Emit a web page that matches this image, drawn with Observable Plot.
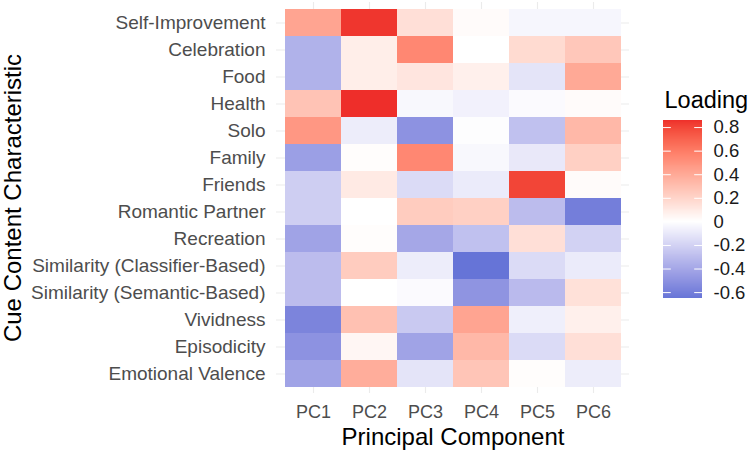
<!DOCTYPE html>
<html>
<head>
<meta charset="utf-8">
<script src="https://cdn.jsdelivr.net/npm/d3@7"></script>
<script src="https://cdn.jsdelivr.net/npm/@observablehq/plot@0.6"></script>
<style>
  html, body { margin: 0; padding: 0; background: #ffffff; }
  #chart { position: relative; width: 750px; height: 450px; overflow: hidden;
           font-family: "Liberation Sans", Arial, sans-serif; }
  #chart > svg { position: absolute; top: 0; }
</style>
</head>
<body>
<div id="chart"></div>
<script>
// Principal components (columns) and cue content characteristics (rows)
const components = ["PC1", "PC2", "PC3", "PC4", "PC5", "PC6"];
const characteristics = [
  "Self-Improvement", "Celebration", "Food", "Health", "Solo", "Family", "Friends",
  "Romantic Partner", "Recreation", "Similarity (Classifier-Based)",
  "Similarity (Semantic-Based)", "Vividness", "Episodicity", "Emotional Valence"
];

// Loadings of each characteristic on each component (same order as characteristics)
const pc1 = [0.42, -0.35, -0.35, 0.28, 0.48, -0.44, -0.22, -0.22, -0.42, -0.30, -0.30, -0.57, -0.50, -0.42];
const pc2 = [0.84, 0.08, 0.08, 0.86, -0.08, 0.01, 0.10, 0.00, 0.01, 0.24, 0.00, 0.29, 0.04, 0.38];
const pc3 = [0.15, 0.55, 0.12, -0.03, -0.50, 0.55, -0.16, 0.24, -0.40, -0.08, -0.02, -0.24, -0.42, -0.12];
const pc4 = [0.02, 0.00, 0.07, -0.06, -0.01, -0.03, -0.09, 0.22, -0.28, -0.65, -0.49, 0.42, 0.33, 0.27];
const pc5 = [-0.04, 0.17, -0.12, -0.02, -0.28, -0.10, 0.80, -0.30, 0.15, -0.16, -0.31, -0.07, -0.16, 0.01];
const pc6 = [-0.04, 0.26, 0.40, 0.02, 0.33, 0.22, 0.02, -0.60, -0.20, -0.09, 0.14, 0.07, 0.15, -0.08];

// Legend tick labels
const legendTicks = [-0.6, -0.4, -0.2, 0, 0.2, 0.4, 0.6, 0.8];

// Long-format table built from the arrays above
const series = [pc1, pc2, pc3, pc4, pc5, pc6];
const cells = [];
components.forEach((pc, j) => {
  characteristics.forEach((ch, i) => {
    cells.push({component: pc, characteristic: ch, loading: series[j][i]});
  });
});

const values = cells.map(d => d.loading);
const vMin = d3.min(values), vMax = d3.max(values);
const vAbs = d3.max(values, v => Math.abs(v));

// Diverging blue–white–red fill centred on zero
const colorScale = {
  type: "linear",
  domain: [-vAbs, 0, vAbs],
  range: ["#0a4dc8", "#ffffff", "#ee2e2a"],
  interpolate: d3.interpolateLab
};

const font = "'Liberation Sans', Arial, sans-serif";

const heatmap = Plot.plot({
  width: 750,
  height: 450,
  marginLeft: 276,
  marginRight: 121,
  marginTop: 2,
  marginBottom: 57,
  style: {fontFamily: font, fontSize: "18px", color: "#4d4d4d", background: "transparent"},
  x: {domain: components, paddingInner: 0, paddingOuter: 0.1, label: null},
  y: {domain: characteristics, paddingInner: 0, paddingOuter: 0.1, label: null},
  color: colorScale,
  marks: [
    Plot.gridX({stroke: "#ebebeb", strokeOpacity: 1, strokeWidth: 1.1}),
    Plot.gridY({stroke: "#ebebeb", strokeOpacity: 1, strokeWidth: 1.1}),
    Plot.cell(cells, {
      x: "component", y: "characteristic", fill: "loading",
      inset: 0, shapeRendering: "crispEdges"
    }),
    Plot.axisX({tickSize: 0, tickPadding: 12, label: null, fontSize: 18, fill: "#4d4d4d"}),
    Plot.axisY({tickSize: 0, tickPadding: 11, label: null, fontSize: 19, fill: "#4d4d4d"}),
    Plot.text(["Principal Component"], {
      frameAnchor: "bottom", textAnchor: "middle", lineAnchor: "bottom", dy: 51,
      fontSize: 24, fill: "#000000"
    }),
    Plot.text(["Cue Content Characteristic"], {
      frameAnchor: "left", textAnchor: "middle", rotate: -90, lineAnchor: "middle", dx: -263,
      fontSize: 24, fill: "#000000"
    })
  ]
});
heatmap.style.left = "0px";

// Vertical colour bar legend
const steps = 360;
const stepSize = (vMax - vMin) / steps;
const ramp = d3.range(steps).map(k => vMin + k * stepSize);

const legend = Plot.plot({
  width: 95,
  height: 450,
  marginLeft: 8,
  marginRight: 48,
  marginTop: 120,
  marginBottom: 152,
  style: {fontFamily: font, fontSize: "18px", color: "#1a1a1a", background: "transparent", overflow: "visible"},
  x: {domain: [0, 1], axis: null},
  y: {domain: [vMin, vMax], axis: null},
  color: colorScale,
  marks: [
    Plot.rect(ramp, {
      x1: 0, x2: 1, y1: d => d, y2: d => d + stepSize * 1.5, fill: d => d + stepSize / 2,
      shapeRendering: "crispEdges"
    }),
    Plot.ruleY(legendTicks, {y: d => d, x1: 0, x2: 0.2, stroke: "#ffffff", strokeWidth: 1}),
    Plot.ruleY(legendTicks, {y: d => d, x1: 0.8, x2: 1, stroke: "#ffffff", strokeWidth: 1}),
    Plot.text(legendTicks, {
      y: d => d, frameAnchor: "right", textAnchor: "start", dx: 11,
      text: d => String(Math.round(d * 10) / 10), fontSize: 18.5, fill: "#1a1a1a"
    }),
    Plot.text(["Loading"], {
      frameAnchor: "top-left", textAnchor: "start", lineAnchor: "bottom",
      dx: 1, dy: -13, fontSize: 23.5, fill: "#000000"
    })
  ]
});
legend.style.left = "655px";

const root = document.getElementById("chart");
root.appendChild(heatmap);
root.appendChild(legend);
</script>
</body>
</html>
